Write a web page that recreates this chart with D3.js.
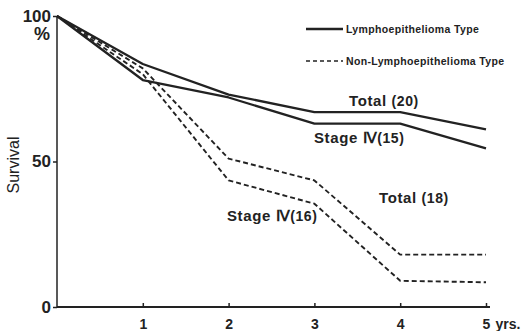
<!DOCTYPE html>
<html><head><meta charset="utf-8">
<script src="https://cdn.jsdelivr.net/npm/d3@7"></script>
<style>body{margin:0;background:#fff}svg{display:block}text{font-family:"Liberation Sans",Arial,sans-serif;fill:#222}</style>
</head><body>
<script>
const years = [0, 1, 2, 3, 4, 5];
const lymphoTotal = [100, 83.5, 73, 67, 67, 61];
const lymphoStage4 = [100, 78, 72, 63, 63, 54.5];
const nonLymphoTotal = [100, 82, 51, 43.5, 18, 18];
const nonLymphoStage4 = [100, 80, 43.5, 35.5, 9, 8.5];
const yTicks = [0, 50, 100];
const xTicks = [1, 2, 3, 4, 5];
const legendLabels = ["Lymphoepithelioma Type", "Non-Lymphoepithelioma Type"];

const W = 522, H = 331;
const svg = d3.select("body").append("svg").attr("width", W).attr("height", H);
const x = d3.scaleLinear().domain([0, 5]).range([57, 486]);
const y = d3.scaleLinear().domain([0, 100]).range([307, 16]);
const ink = "#222";

// axes
const xAxis = svg.append("g").attr("transform", `translate(0,${y(0)})`)
  .call(d3.axisBottom(x).tickValues(xTicks).tickSize(5).tickPadding(4).tickFormat(d => d));
xAxis.select(".domain").attr("d", `M${x(0)},0H${x(5) + 4}`).attr("stroke", ink).attr("stroke-width", 2);
xAxis.selectAll(".tick line").attr("stroke", ink).attr("stroke-width", 1.5).attr("y1", -4).attr("y2", 1);
xAxis.selectAll(".tick text").attr("font-size", 14).attr("font-weight", "bold").attr("fill", ink).attr("dy", "0.95em");
xAxis.selectAll(".tick").filter(d => d === 5).append("text")
  .attr("x", 9).attr("y", 9).attr("dy", "0.95em").attr("font-size", 14).attr("font-weight", "bold")
  .attr("text-anchor", "start").text("yrs.");

const yAxis = svg.append("g").attr("transform", `translate(${x(0)},0)`)
  .call(d3.axisLeft(y).tickValues(yTicks).tickSize(4).tickPadding(2));
yAxis.select(".domain").attr("d", `M0,${y(100)}V${y(0)}`).attr("stroke", ink).attr("stroke-width", 1.5);
yAxis.selectAll(".tick line").attr("stroke", ink).attr("stroke-width", 1.5);
yAxis.selectAll(".tick text").attr("font-size", 17).attr("fill", ink).attr("font-family", "'Liberation Sans Narrow','Liberation Sans',sans-serif").attr("font-weight", "bold");
svg.append("text").attr("x", 42).attr("y", 40).attr("text-anchor", "middle")
  .attr("font-size", 18).attr("font-weight", "bold").text("%");

svg.append("text").attr("transform", "translate(19,165) rotate(-90)").attr("text-anchor", "middle")
  .attr("font-size", 16).text("Survival");

// lines
const line = d3.line().x((d, i) => x(years[i])).y(d => y(d));
const series = [
  { v: lymphoTotal, dash: null },
  { v: lymphoStage4, dash: null },
  { v: nonLymphoTotal, dash: "5,3" },
  { v: nonLymphoStage4, dash: "5,3" }
];
series.forEach(s => {
  svg.append("path").datum(s.v).attr("d", line).attr("fill", "none")
    .attr("stroke", ink).attr("stroke-width", s.dash ? 1.9 : 2.3)
    .attr("stroke-dasharray", s.dash).attr("stroke-linejoin", "round");
});

// annotations
function label(tx, ty, main, paren) {
  const t = svg.append("text").attr("x", tx).attr("y", ty).attr("font-size", 15).attr("font-weight", "bold")
    .attr("fill", "#333").attr("letter-spacing", 0.6);
  t.append("tspan").text(main);
  t.append("tspan").attr("font-family", "'Liberation Sans Narrow',sans-serif").attr("font-size", 14).text(paren);
}
label(349, 106, "Total  ", "(20)");
label(314, 143, "Stage Ⅳ", "(15)");
label(379, 203, "Total  ", "(18)");
label(227, 221, "Stage Ⅳ", "(16)");

// legend
[0, 1].forEach(i => {
  const ly = 29 + i * 32;
  svg.append("line").attr("x1", 306).attr("x2", 343).attr("y1", ly).attr("y2", ly)
    .attr("stroke", ink).attr("stroke-width", i ? 1.5 : 2.5).attr("stroke-dasharray", i ? "4,3" : null);
  svg.append("text").attr("x", 346).attr("y", ly + 4).attr("font-size", 10.5).attr("font-weight", "bold")
    .attr("letter-spacing", 0.35).attr("fill", "#333").text(legendLabels[i]);
});
</script>
</body></html>
